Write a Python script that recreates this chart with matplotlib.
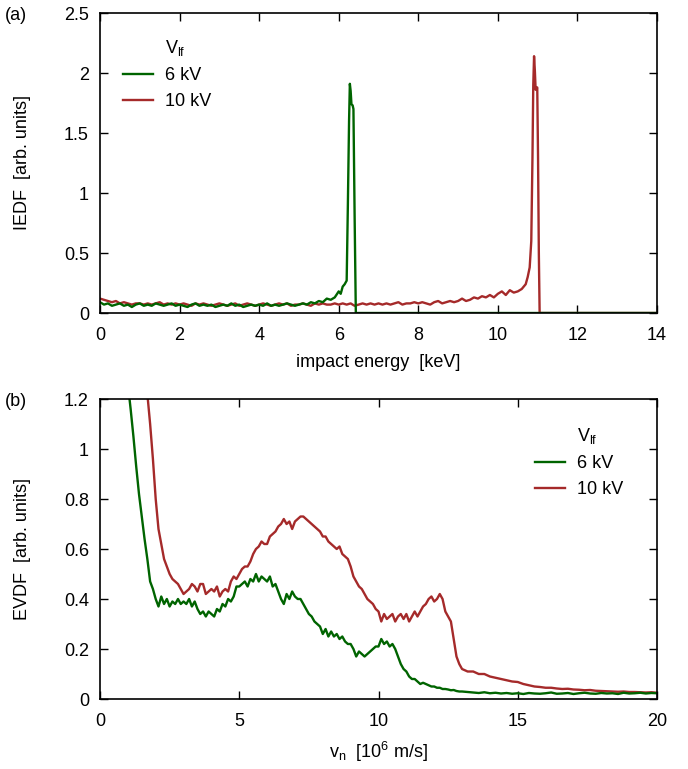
import numpy as np
import matplotlib
matplotlib.use("Agg")
import matplotlib.pyplot as plt
from matplotlib.lines import Line2D
from matplotlib.ticker import FuncFormatter

plt.rcParams['font.family'] = ['Liberation Sans', 'DejaVu Sans']
plt.rcParams['mathtext.fontset'] = 'custom'
plt.rcParams['mathtext.rm'] = 'Liberation Sans'
plt.rcParams['mathtext.it'] = 'Liberation Sans:italic'

GREEN = '#006400'
RED = '#a52a2a'
FS = 13

# ---------------- panel (a): IEDF ----------------
# 6 kV: baseline 0.0..5.9 keV (step 0.1)
iedf6_base = [0.09, 0.07, 0.08, 0.06, 0.07, 0.08, 0.06, 0.07, 0.05, 0.07,
              0.08, 0.06, 0.07, 0.06, 0.08, 0.07, 0.06, 0.07, 0.08, 0.06,
              0.07, 0.06, 0.05, 0.07, 0.08, 0.06, 0.07, 0.06, 0.07, 0.05,
              0.06, 0.07, 0.06, 0.08, 0.06, 0.07, 0.05, 0.06, 0.07, 0.06,
              0.07, 0.06, 0.08, 0.06, 0.07, 0.06, 0.07, 0.08, 0.07, 0.06,
              0.07, 0.08, 0.07, 0.09, 0.08, 0.10, 0.09, 0.12, 0.11, 0.13]
iedf6_peak_e = [6.00, 6.05, 6.10, 6.15, 6.20, 6.23, 6.26, 6.28, 6.30, 6.32,
                6.35, 6.37, 6.40, 6.43, 14.0]
iedf6_peak = [0.18, 0.16, 0.22, 0.24, 0.27, 0.90, 1.60, 1.91, 1.85, 1.74,
              1.73, 1.70, 0.80, 0.00, 0.00]

# 10 kV: baseline 0.0..10.7 keV (step 0.1)
iedf10_base = [0.12, 0.11, 0.10, 0.09, 0.10, 0.08, 0.09, 0.08, 0.07, 0.08,
               0.08, 0.07, 0.08, 0.07, 0.08, 0.09, 0.07, 0.08, 0.07, 0.08,
               0.07, 0.08, 0.07, 0.06, 0.08, 0.07, 0.08, 0.07, 0.06, 0.07,
               0.08, 0.07, 0.06, 0.07, 0.08, 0.06, 0.07, 0.08, 0.07, 0.06,
               0.07, 0.08, 0.07, 0.06, 0.07, 0.08, 0.07, 0.08, 0.06, 0.07,
               0.07, 0.08, 0.07, 0.06, 0.08, 0.07, 0.08, 0.07, 0.07, 0.08,
               0.07, 0.08, 0.07, 0.08, 0.06, 0.07, 0.08, 0.07, 0.08, 0.07,
               0.08, 0.07, 0.08, 0.07, 0.08, 0.09, 0.07, 0.08, 0.08, 0.09,
               0.08, 0.09, 0.08, 0.07, 0.09, 0.10, 0.08, 0.09, 0.10, 0.09,
               0.10, 0.12, 0.10, 0.11, 0.13, 0.12, 0.14, 0.13, 0.15, 0.13,
               0.16, 0.18, 0.15, 0.19, 0.17, 0.18, 0.20, 0.24]
iedf10_peak_e = [10.75, 10.80, 10.84, 10.87, 10.89, 10.91, 10.93, 10.95, 10.99,
                 11.01, 11.03, 11.05, 14.0]
iedf10_peak = [0.30, 0.38, 0.60, 1.30, 1.90, 2.14, 2.02, 1.86, 1.88,
               1.30, 0.50, 0.00, 0.00]

# ---------------- panel (b): EVDF ----------------
# 6 kV: v = 1.0..13.0 (step 0.1), then 13.2..20.0 (step 0.2)
evdf6_a = [1.26, 1.16, 1.05, 0.93, 0.82, 0.73, 0.64, 0.56, 0.47, 0.44,
           0.40, 0.37, 0.41, 0.38, 0.40, 0.37, 0.39, 0.38, 0.40, 0.38,
           0.39, 0.38, 0.40, 0.37, 0.39, 0.36, 0.34, 0.35, 0.33, 0.35,
           0.34, 0.33, 0.36, 0.35, 0.38, 0.37, 0.40, 0.39, 0.41, 0.45,
           0.45, 0.46, 0.47, 0.45, 0.48, 0.47, 0.50, 0.47, 0.49, 0.48,
           0.47, 0.49, 0.45, 0.46, 0.43, 0.40, 0.38, 0.42, 0.40, 0.43,
           0.41, 0.40, 0.40, 0.38, 0.36, 0.34, 0.33, 0.31, 0.30, 0.29,
           0.26, 0.28, 0.25, 0.27, 0.25, 0.26, 0.24, 0.25, 0.23, 0.22,
           0.22, 0.20, 0.17, 0.19, 0.18, 0.17, 0.18, 0.19, 0.20, 0.21,
           0.21, 0.24, 0.22, 0.23, 0.21, 0.22, 0.20, 0.17, 0.14, 0.12,
           0.11, 0.09, 0.08, 0.08, 0.07, 0.06, 0.065, 0.06, 0.055, 0.05,
           0.05, 0.045, 0.045, 0.04, 0.04, 0.038, 0.035, 0.036, 0.032, 0.03,
           0.03]
evdf6_b = [0.028, 0.026, 0.024, 0.027, 0.023, 0.025, 0.022, 0.024, 0.021, 0.023,
           0.020, 0.024, 0.022, 0.021, 0.023, 0.026, 0.021, 0.022, 0.024, 0.020,
           0.023, 0.025, 0.022, 0.021, 0.024, 0.022, 0.023, 0.020, 0.025, 0.022,
           0.023, 0.025, 0.022, 0.024, 0.023]

# 10 kV: v = 1.7..13.0 (step 0.1), then 13.2..20.0 (step 0.2)
evdf10_a = [1.22, 1.10, 0.96,
            0.80, 0.68, 0.62, 0.56, 0.53, 0.50, 0.48, 0.47, 0.46, 0.44,
            0.42, 0.43, 0.44, 0.46, 0.45, 0.43, 0.46, 0.46, 0.42, 0.43,
            0.44, 0.43, 0.45, 0.41, 0.43, 0.44, 0.43, 0.47, 0.49, 0.48,
            0.50, 0.52, 0.53, 0.53, 0.55, 0.58, 0.60, 0.61, 0.63, 0.62,
            0.62, 0.65, 0.66, 0.67, 0.69, 0.70, 0.72, 0.70, 0.71, 0.68,
            0.71, 0.72, 0.73, 0.73, 0.72, 0.71, 0.70, 0.69, 0.68, 0.67,
            0.65, 0.65, 0.63, 0.62, 0.61, 0.60, 0.61, 0.58, 0.57, 0.56,
            0.53, 0.49, 0.47, 0.45, 0.44, 0.42, 0.40, 0.39, 0.38, 0.36,
            0.35, 0.31, 0.34, 0.32, 0.33, 0.34, 0.31, 0.33, 0.34, 0.32,
            0.34, 0.31, 0.33, 0.35, 0.33, 0.35, 0.37, 0.38, 0.40, 0.41,
            0.39, 0.40, 0.42, 0.40, 0.35, 0.33, 0.31, 0.24, 0.17, 0.14,
            0.12]
evdf10_b = [0.11, 0.11, 0.10, 0.10, 0.09, 0.085, 0.08, 0.075, 0.07, 0.068,
            0.06, 0.055, 0.05, 0.048, 0.045, 0.045, 0.042, 0.040, 0.041, 0.038,
            0.037, 0.035, 0.036, 0.033, 0.032, 0.031, 0.030, 0.029, 0.030, 0.028,
            0.028, 0.027, 0.026, 0.027, 0.025]

legend_title = r'$\mathrm{V}_{\mathrm{lf}}$'
legend_labels = ['6 kV', '10 kV']

# grids
e6 = np.concatenate([np.round(np.arange(len(iedf6_base)) * 0.1, 2), iedf6_peak_e])
y6 = np.concatenate([iedf6_base, iedf6_peak])
e10 = np.concatenate([np.round(np.arange(len(iedf10_base)) * 0.1, 2), iedf10_peak_e])
y10 = np.concatenate([iedf10_base, iedf10_peak])

v6 = np.concatenate([1.0 + np.arange(len(evdf6_a)) * 0.1, 13.2 + np.arange(len(evdf6_b)) * 0.2])
f6 = np.concatenate([evdf6_a, evdf6_b])
v10 = np.concatenate([1.7 + np.arange(len(evdf10_a)) * 0.1, 13.2 + np.arange(len(evdf10_b)) * 0.2])
f10 = np.concatenate([evdf10_a, evdf10_b])

fig = plt.figure(figsize=(6.88, 7.69), dpi=100)
AW, AH = 557.0, 300.0
axA = fig.add_axes([100/688, 1-313/769, AW/688, AH/769])
axB = fig.add_axes([100/688, 1-699/769, AW/688, AH/769])

LW = 1.7
axA.plot(e10, y10, color=RED, lw=LW)
axA.plot(e6, y6, color=GREEN, lw=LW)
axB.plot(v10, f10, color=RED, lw=LW)
axB.plot(v6, f6, color=GREEN, lw=LW)

axA.set_xlim(0, 14)
axA.set_ylim(0, 2.5)
axA.set_xticks(np.arange(0, 15, 2))
axA.set_yticks(np.arange(0, 2.51, 0.5))
axB.set_xlim(0, 20)
axB.set_ylim(0, 1.2)
axB.set_xticks(np.arange(0, 21, 5))
axB.set_yticks(np.arange(0, 1.21, 0.2))

fmt = FuncFormatter(lambda v, p: ('%g' % round(v, 3)))
for ax in (axA, axB):
    ax.xaxis.set_major_formatter(fmt)
    ax.yaxis.set_major_formatter(fmt)
    ax.tick_params(direction='in', length=6, width=1.0, top=True, right=True,
                   labelsize=FS, pad=8, color='black')
    ax.tick_params(axis='x', pad=10)
    for s in ax.spines.values():
        s.set_linewidth(1.2)

axA.set_xlabel('impact energy  [keV]', fontsize=FS)
axA.set_ylabel('IEDF  [arb. units]', fontsize=FS)
axB.set_xlabel(r'v$_\mathrm{n}$  [10$^\mathrm{6}$ m/s]', fontsize=FS)
axB.set_ylabel('EVDF  [arb. units]', fontsize=FS)
for ax in (axA, axB):
    ax.xaxis.set_label_coords(0.5, -41/AH)
    ax.yaxis.set_label_coords(-69/AW, 0.5)

fig.text(5/688, 1-16/769, '(a)', fontsize=FS, va='center', ha='left')
fig.text(5/688, 1-402/769, '(b)', fontsize=FS, va='center', ha='left')

def add_legend(ax, anchor):
    handles = [Line2D([], [], color='none'),
               Line2D([], [], color=GREEN, lw=LW),
               Line2D([], [], color=RED, lw=LW)]
    labels = [legend_title] + legend_labels
    ax.legend(handles, labels, loc='upper left', bbox_to_anchor=anchor, frameon=False,
              fontsize=FS, handlelength=1.67, handletextpad=0.67,
              labelspacing=0.5, borderaxespad=0)

add_legend(axA, (16/AW, 1-18/AH))
add_legend(axB, (428/AW, 1-20/AH))

fig.savefig('out.png', dpi=100)
